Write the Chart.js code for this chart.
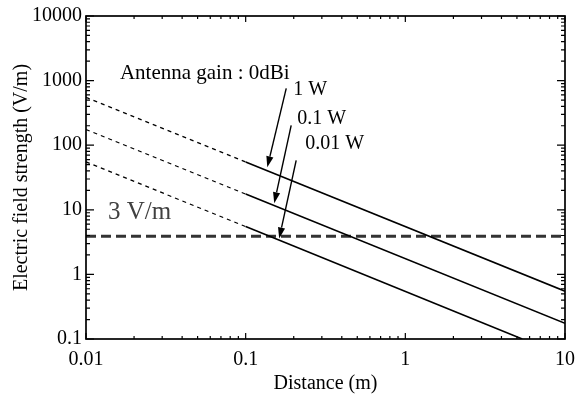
<!DOCTYPE html>
<html>
<head>
<meta charset="utf-8">
<script src="https://cdn.jsdelivr.net/npm/chart.js@4.4.1/dist/chart.umd.min.js"></script>
<style>
  html, body { margin: 0; padding: 0; background: #fff; }
  #wrap { width: 584px; height: 398px; }
</style>
</head>
<body>
<div id="wrap"><canvas id="c" width="584" height="398"></canvas></div>
<script>
// ---- data ----
const seriesLabels = ['1 W', '0.1 W', '0.01 W'];
const distance1W = [0.01, 0.1, 10];
const field1W = [550, 55, 0.55];
const distance01W = [0.01, 0.1, 10];
const field01W = [175, 17.5, 0.175];
const distance001W = [0.01, 0.1, 5.4];
const field001W = [55, 5.5, 0.1];
const limitDistance = [0.01, 10];
const limitField = [3.9, 3.9];
const limitLabel = '3 V/m';
const gainLabel = 'Antenna gain : 0dBi';
const xTickValues = [0.01, 0.1, 1, 10];
const yTickValues = [0.1, 1, 10, 100, 1000, 10000];

const toPoints = (xs, ys) => xs.map((x, i) => ({ x: x, y: ys[i] }));
const SERIF = "'Liberation Serif', 'DejaVu Serif', serif";

const lineSeg = {
  borderDash: ctx => (ctx.p0.parsed.x < 0.0999 ? [4, 4] : []),
  borderWidth: ctx => (ctx.p0.parsed.x < 0.0999 ? 1.3 : 1.6)
};

function lineDataset(label, xs, ys) {
  return {
    label: label,
    data: toPoints(xs, ys),
    borderColor: '#000',
    borderWidth: 1.6,
    pointRadius: 0,
    tension: 0,
    segment: lineSeg
  };
}

const annotations = {
  texts: [
    { text: gainLabel, x: 0.0163, y: 1292, size: 21, color: '#000' },
    { text: seriesLabels[0], x: 0.1984, y: 731, size: 20, color: '#000' },
    { text: seriesLabels[1], x: 0.2102, y: 260, size: 20, color: '#000' },
    { text: seriesLabels[2], x: 0.2358, y: 107, size: 20, color: '#000' },
    { text: limitLabel, x: 0.01371, y: 9.18, size: 25, color: '#404040' }
  ],
  arrows: [
    { x0: 0.1795, y0: 757, x1: 0.1366, y1: 45.5 },
    { x0: 0.1928, y0: 203, x1: 0.151, y1: 12.65 },
    { x0: 0.2072, y0: 58.4, x1: 0.1622, y1: 3.6 }
  ]
};

const framePlugin = {
  id: 'frameTicks',
  afterDatasetsDraw(chart) {
    const { ctx, chartArea: a, scales } = chart;
    const xs = scales.x, ys = scales.y;
    ctx.save();
    ctx.strokeStyle = '#000';
    ctx.lineWidth = 1.2;
    ctx.beginPath();
    // x ticks (bottom & top)
    for (let d = 0.01; d < 10 * 1.0001; d *= 10) {
      for (let m = 1; m <= 9; m++) {
        const v = d * m;
        if (v > 10.0001) break;
        const px = xs.getPixelForValue(v);
        const len = m === 1 ? 6 : 3;
        ctx.moveTo(px, a.bottom); ctx.lineTo(px, a.bottom - len);
        ctx.moveTo(px, a.top); ctx.lineTo(px, a.top + len);
      }
    }
    // y ticks (left & right)
    for (let d = 0.1; d < 10000 * 1.0001; d *= 10) {
      for (let m = 1; m <= 9; m++) {
        const v = d * m;
        if (v > 10000.01) break;
        const py = ys.getPixelForValue(v);
        const len = m === 1 ? 8 : 4;
        ctx.moveTo(a.left, py); ctx.lineTo(a.left + len, py);
        ctx.moveTo(a.right, py); ctx.lineTo(a.right - len, py);
      }
    }
    ctx.stroke();
    ctx.lineWidth = 1.7;
    ctx.strokeRect(a.left, a.top, a.right - a.left, a.bottom - a.top);

    // annotations
    const opts = chart.options.plugins.frameTicks;
    ctx.textBaseline = 'middle';
    ctx.textAlign = 'left';
    opts.texts.forEach(t => {
      ctx.font = t.size + 'px ' + SERIF;
      ctx.fillStyle = t.color;
      ctx.fillText(t.text, xs.getPixelForValue(t.x), ys.getPixelForValue(t.y));
    });
    ctx.strokeStyle = '#000';
    ctx.fillStyle = '#000';
    ctx.lineWidth = 1.4;
    opts.arrows.forEach(ar => {
      const x0 = xs.getPixelForValue(ar.x0), y0 = ys.getPixelForValue(ar.y0);
      const x1 = xs.getPixelForValue(ar.x1), y1 = ys.getPixelForValue(ar.y1);
      const ang = Math.atan2(y1 - y0, x1 - x0);
      const hl = 11, hw = 3.6;
      const bx = x1 - hl * Math.cos(ang), by = y1 - hl * Math.sin(ang);
      ctx.beginPath();
      ctx.moveTo(x0, y0); ctx.lineTo(bx, by);
      ctx.stroke();
      ctx.beginPath();
      ctx.moveTo(x1, y1);
      ctx.lineTo(bx + hw * Math.sin(ang), by - hw * Math.cos(ang));
      ctx.lineTo(bx - hw * Math.sin(ang), by + hw * Math.cos(ang));
      ctx.closePath();
      ctx.fill();
    });
    ctx.restore();
  }
};

new Chart(document.getElementById('c'), {
  type: 'line',
  data: {
    datasets: [
      lineDataset(seriesLabels[0], distance1W, field1W),
      lineDataset(seriesLabels[1], distance01W, field01W),
      lineDataset(seriesLabels[2], distance001W, field001W),
      {
        label: limitLabel,
        data: toPoints(limitDistance, limitField),
        borderColor: '#333',
        borderWidth: 3,
        borderDash: [10, 5],
        pointRadius: 0
      }
    ]
  },
  options: {
    responsive: false,
    animation: false,
    devicePixelRatio: 1,
    layout: { padding: { top: 15, right: 17, left: 0, bottom: 0 } },
    plugins: {
      legend: { display: false },
      tooltip: { enabled: false },
      frameTicks: annotations
    },
    scales: {
      x: {
        type: 'logarithmic',
        min: 0.01, max: 10,
        afterBuildTicks: s => { s.ticks = xTickValues.map(v => ({ value: v })); },
        afterFit: s => { s.height = 59; },
        grid: { display: false, drawTicks: false },
        border: { display: false },
        ticks: {
          autoSkip: false, maxRotation: 0, padding: 9,
          color: '#000',
          font: { family: SERIF, size: 20 },
          callback: v => String(v)
        },
        title: {
          display: true, text: 'Distance (m)', color: '#000',
          font: { family: SERIF, size: 20 },
          padding: { top: 0, bottom: 2 }
        }
      },
      y: {
        type: 'logarithmic',
        min: 0.1, max: 10000,
        afterBuildTicks: s => { s.ticks = yTickValues.map(v => ({ value: v })); },
        afterFit: s => { s.width = 86; },
        grid: { display: false, drawTicks: false },
        border: { display: false },
        ticks: {
          autoSkip: false, padding: 4,
          color: '#000',
          font: { family: SERIF, size: 20 },
          callback: v => String(v)
        },
        title: {
          display: true, text: 'Electric field strength (V/m)', color: '#000',
          font: { family: SERIF, size: 20 },
          padding: { top: 10, bottom: 0 }
        }
      }
    }
  },
  plugins: [framePlugin]
});
</script>
</body>
</html>
